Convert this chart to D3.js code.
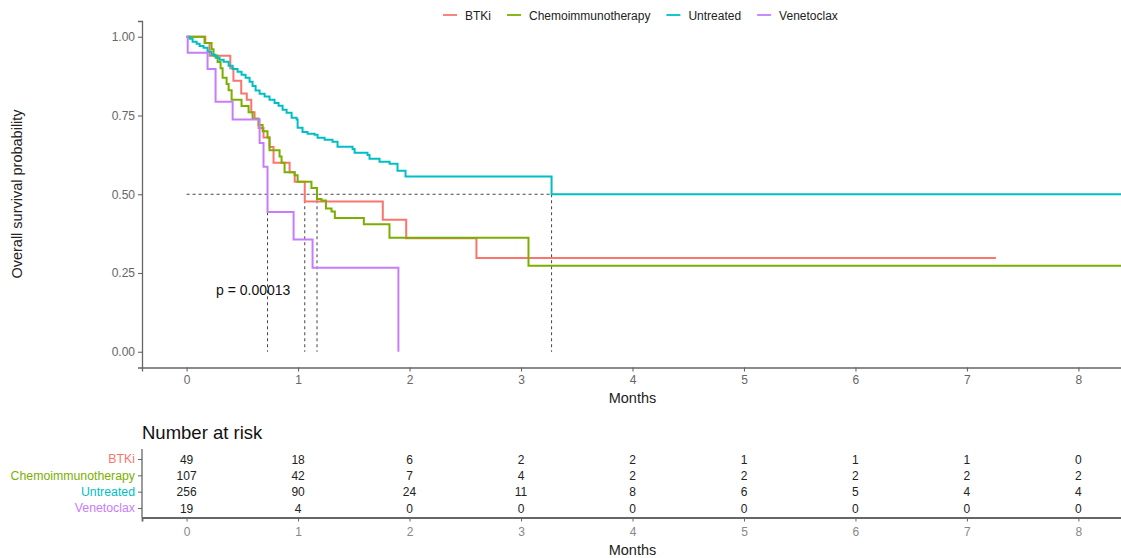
<!DOCTYPE html>
<html>
<head>
  <style>
    body { margin: 0; background: white; }
    text { font-family: "Liberation Sans", Arial, sans-serif; }
  </style>
</head>
<body>
  <script src="https://d3js.org/d3.v7.min.js"></script>
  <script>
    var width = 1121, height = 558;

    // groups and colours
    var groups = ["BTKi", "Chemoimmunotherapy", "Untreated", "Venetoclax"];
    var colors = ["#F8766D", "#7CAE00", "#00BFC4", "#C77CFF"];

    // step curves: event times (months) and survival after each step
    var btkiTime = [0, 0.168, 0.206, 0.392, 0.42, 0.49, 0.54, 0.58, 0.61, 0.646, 0.69, 0.744, 0.78, 0.924, 0.97, 1.06, 1.76, 1.97, 2.60, 7.26];
    var btkiSurv = [1, 0.98, 0.94, 0.90, 0.86, 0.82, 0.80, 0.76, 0.74, 0.71, 0.68, 0.65, 0.60, 0.57, 0.54, 0.477, 0.419, 0.36, 0.298, 0.298];

    var chemoTime = [0, 0.161, 0.224, 0.242, 0.278, 0.305, 0.323, 0.359, 0.377, 0.404, 0.493, 0.556, 0.592, 0.646, 0.682, 0.726, 0.744, 0.834, 0.852, 0.879, 0.969, 0.996, 1.12, 1.17, 1.21, 1.25, 1.30, 1.33, 1.59, 1.82, 3.067, 8.6];
    var chemoSurv = [1, 0.98, 0.96, 0.94, 0.92, 0.90, 0.87, 0.85, 0.83, 0.80, 0.78, 0.76, 0.74, 0.72, 0.70, 0.68, 0.64, 0.62, 0.60, 0.57, 0.56, 0.54, 0.52, 0.485, 0.48, 0.455, 0.445, 0.425, 0.405, 0.362, 0.273, 0.273];

    var untreatedTime = [0, 0.027, 0.054, 0.09, 0.117, 0.152, 0.188, 0.224, 0.26, 0.296, 0.332, 0.377, 0.413, 0.457, 0.493, 0.529, 0.565, 0.592, 0.619, 0.655, 0.70, 0.744, 0.789, 0.825, 0.861, 0.897, 0.942, 0.987, 0.996, 1.04, 1.085, 1.148, 1.175, 1.238, 1.309, 1.354, 1.489, 1.507, 1.623, 1.641, 1.731, 1.821, 1.892, 1.964, 3.274, 8.6];
    var untreatedSurv = [1, 0.994, 0.984, 0.978, 0.971, 0.965, 0.952, 0.943, 0.933, 0.927, 0.921, 0.908, 0.898, 0.889, 0.879, 0.870, 0.857, 0.844, 0.829, 0.819, 0.810, 0.800, 0.790, 0.781, 0.768, 0.759, 0.743, 0.737, 0.711, 0.698, 0.692, 0.689, 0.679, 0.673, 0.667, 0.651, 0.644, 0.632, 0.625, 0.613, 0.603, 0.597, 0.575, 0.556, 0.50, 0.50];

    var venetoclaxTime = [0, 0.01, 0.188, 0.26, 0.413, 0.655, 0.69, 0.726, 0.96, 1.13, 1.90];
    var venetoclaxSurv = [1, 0.949, 0.898, 0.794, 0.737, 0.663, 0.587, 0.444, 0.356, 0.267, 0];

    // number at risk
    var riskMonths = [0, 1, 2, 3, 4, 5, 6, 7, 8];
    var btkiRisk = [49, 18, 6, 2, 2, 1, 1, 1, 0];
    var chemoRisk = [107, 42, 7, 4, 2, 2, 2, 2, 2];
    var untreatedRisk = [256, 90, 24, 11, 8, 6, 5, 4, 4];
    var venetoclaxRisk = [19, 4, 0, 0, 0, 0, 0, 0, 0];

    var yTicks = [0, 0.25, 0.5, 0.75, 1];
    var pLabel = "p = 0.00013";

    var curves = [
      {name: groups[0], t: btkiTime, s: btkiSurv},
      {name: groups[1], t: chemoTime, s: chemoSurv},
      {name: groups[2], t: untreatedTime, s: untreatedSurv},
      {name: groups[3], t: venetoclaxTime, s: venetoclaxSurv}
    ];
    var risks = [btkiRisk, chemoRisk, untreatedRisk, venetoclaxRisk];

    var svg = d3.select("body").append("svg")
        .attr("width", width).attr("height", height);

    var x = d3.scaleLinear().domain([-0.4, 8.4]).range([142, 1123]);
    var y = d3.scaleLinear().domain([-0.05, 1.05]).range([367.5, 21]);

    var axisCol = "#666", tickTxt = "#666";

    // clip for curves
    svg.append("clipPath").attr("id", "clip")
      .append("rect").attr("x", 142).attr("y", 0).attr("width", width - 142).attr("height", 370);

    // y axis
    var yAxis = svg.append("g").attr("transform", "translate(142,0)")
      .call(d3.axisLeft(y).tickValues(yTicks).tickFormat(d3.format(".2f")).tickSizeOuter(0).tickSize(4).tickPadding(3));
    // x axis
    var xAxis = svg.append("g").attr("transform", "translate(0,367.5)")
      .call(d3.axisBottom(x).tickValues(riskMonths).tickSizeOuter(0).tickSize(4).tickPadding(4));

    [yAxis, xAxis].forEach(function(g) {
      g.select(".domain").attr("stroke", axisCol).attr("stroke-width", 1.3);
      g.selectAll(".tick line").attr("stroke", axisCol).attr("stroke-width", 1.1);
      g.selectAll(".tick text").attr("fill", tickTxt).style("font-size", "12px")
        .style("font-family", "'Liberation Sans', Arial, sans-serif");
    });

    svg.append("text").attr("transform", "translate(22,194) rotate(-90)")
      .attr("text-anchor", "middle").attr("fill", "#222").style("font-size", "14.5px")
      .text("Overall survival probability");
    svg.append("text").attr("x", x(4)).attr("y", 403).attr("text-anchor", "middle")
      .attr("fill", "#222").style("font-size", "14.5px").text("Months");

    // median lines
    var medians = curves.map(function(c) {
      for (var i = 0; i < c.s.length; i++) if (c.s[i] <= 0.5) return c.t[i];
      return null;
    });
    var dash = svg.append("g").attr("stroke", "#444").attr("stroke-width", 1)
      .attr("stroke-dasharray", "3,3").attr("fill", "none");
    dash.append("line").attr("x1", x(0)).attr("x2", x(d3.max(medians)))
      .attr("y1", y(0.5)).attr("y2", y(0.5));
    medians.forEach(function(m) {
      dash.append("line").attr("x1", x(m)).attr("x2", x(m))
        .attr("y1", y(0.5)).attr("y2", y(0));
    });

    // survival curves
    var line = d3.line()
      .x(function(d) { return x(d[0]); })
      .y(function(d) { return y(d[1]); })
      .curve(d3.curveStepAfter);

    svg.append("g").attr("clip-path", "url(#clip)")
      .selectAll("path").data(curves).enter().append("path")
      .attr("d", function(c) { return line(c.t.map(function(t, i) { return [t, c.s[i]]; })); })
      .attr("fill", "none")
      .attr("stroke", function(c, i) { return colors[i]; })
      .attr("stroke-width", 2);

    svg.append("text").attr("x", 216).attr("y", 295).attr("fill", "#111")
      .style("font-size", "14px").text(pLabel);

    // legend
    var legend = svg.append("g").attr("transform", "translate(0,15)");
    var lx = 443;
    groups.forEach(function(g, i) {
      legend.append("line").attr("x1", lx).attr("x2", lx + 14).attr("y1", 0).attr("y2", 0)
        .attr("stroke", colors[i]).attr("stroke-width", 1.8);
      var t = legend.append("text").attr("x", lx + 22).attr("y", 4.5)
        .attr("fill", "#222").style("font-size", "12px").text(g);
      lx += 22 + t.node().getComputedTextLength() + 16;
    });

    // risk table
    var ry = d3.scalePoint().domain(groups).range([459, 508]);
    svg.append("text").attr("x", 142).attr("y", 439).attr("fill", "#111")
      .style("font-size", "18.5px").text("Number at risk");

    var rAxisY = svg.append("g").attr("transform", "translate(142,0)")
      .call(d3.axisLeft(ry).tickSizeOuter(0).tickSize(4).tickPadding(3));
    rAxisY.select(".domain").remove();
    rAxisY.append("line").attr("x1", 0).attr("x2", 0).attr("y1", 449).attr("y2", 517.5)
      .attr("stroke", axisCol).attr("stroke-width", 1.3);
    rAxisY.selectAll(".tick line").attr("stroke", axisCol);
    rAxisY.selectAll(".tick text")
      .attr("fill", function(d, i) { return colors[i]; })
      .style("font-size", "12.3px").style("font-family", "'Liberation Sans', Arial, sans-serif");

    var rAxisX = svg.append("g").attr("transform", "translate(0,517.5)")
      .call(d3.axisBottom(x).tickValues(riskMonths).tickSizeOuter(0).tickSize(4).tickPadding(6));
    rAxisX.select(".domain").attr("stroke", axisCol).attr("stroke-width", 1.8);
    rAxisX.selectAll(".tick line").attr("stroke", axisCol);
    rAxisX.selectAll(".tick text").attr("fill", "#888").style("font-size", "12px")
      .style("font-family", "'Liberation Sans', Arial, sans-serif");

    risks.forEach(function(r, gi) {
      svg.append("g").selectAll("text").data(r).enter().append("text")
        .attr("x", function(d, i) { return x(riskMonths[i]); })
        .attr("y", ry(groups[gi]) + 4.5)
        .attr("text-anchor", "middle").attr("fill", "#222").style("font-size", "12px")
        .text(function(d) { return d; });
    });

    svg.append("text").attr("x", x(4)).attr("y", 555).attr("text-anchor", "middle")
      .attr("fill", "#222").style("font-size", "14.5px").text("Months");
  </script>
</body>
</html>
